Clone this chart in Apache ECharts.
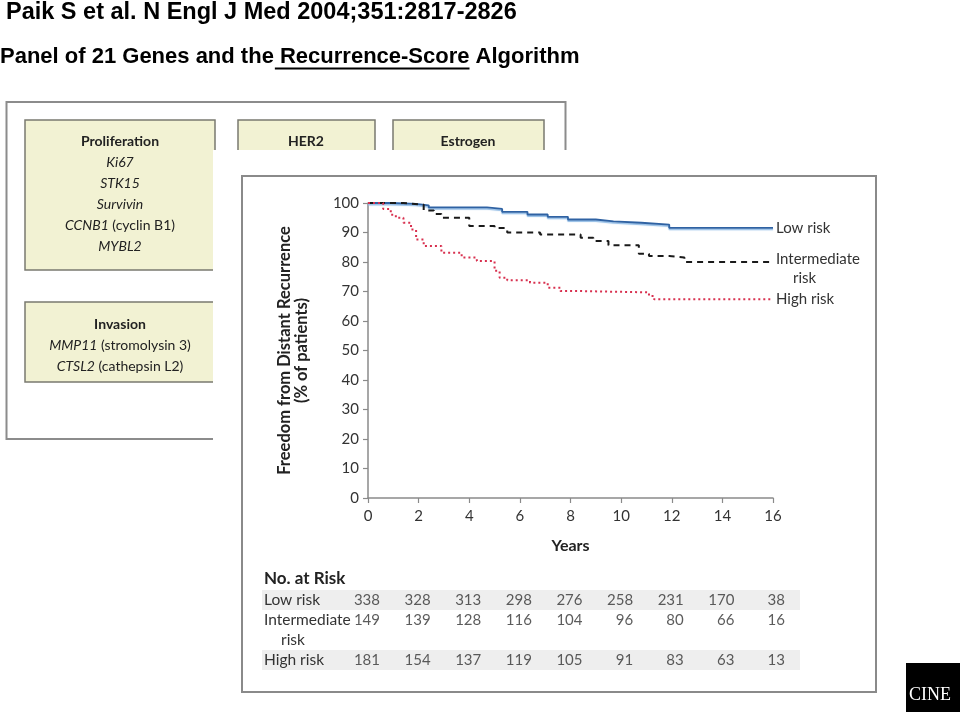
<!DOCTYPE html>
<html>
<head>
<meta charset="utf-8">
<script src="https://cdn.jsdelivr.net/npm/echarts@6/dist/echarts.min.js"></script>
<style>html,body{margin:0;padding:0;background:#fff}#c{width:960px;height:712px}</style>
</head>
<body>
<div id="c"></div>
<script>
// ---- Kaplan-Meier curves (years, % free from distant recurrence) ----
const lowYears = [0, 0.9, 1.9, 2.4, 4.7, 5.3, 6.3, 7.1, 7.9, 9.0, 9.7, 10.8, 11.9, 16];
const lowValues = [100, 99.7, 99.2, 98.5, 98, 97, 96.1, 95.3, 94.4, 93.8, 93.3, 92.7, 91.6, 91.6];
const intYears = [0, 1.4, 2.2, 2.6, 2.9, 4.0, 5.0, 5.5, 6.8, 8.4, 8.9, 9.5, 10.7, 11.1, 11.9, 12.5, 16];
const intValues = [100, 99.4, 97.5, 96.3, 95, 92.2, 91.5, 90, 89.3, 88.2, 87.1, 85.7, 82.8, 82, 81.5, 80, 80];
const highYears = [0, 0.6, 0.9, 1.1, 1.4, 1.7, 1.9, 2.2, 2.9, 3.7, 4.3, 5.0, 5.2, 5.5, 6.4, 7.1, 7.6, 8.1, 11.1, 11.3, 16];
const highValues = [100, 98, 96, 95, 93.3, 91, 87.6, 85.4, 83.1, 81.5, 80.3, 77, 74.7, 73.8, 73, 71.3, 70.2, 69.7, 68.5, 67.4, 67.4];

// ---- No. at risk table ----
const riskYears = [0, 2, 4, 6, 8, 10, 12, 14, 16];
const lowAtRisk = [338, 328, 313, 298, 276, 258, 231, 170, 38];
const intAtRisk = [149, 139, 128, 116, 104, 96, 80, 66, 16];
const highAtRisk = [181, 154, 137, 119, 105, 91, 83, 63, 13];
const riskRowIndex = {low: 0, int: 1, high: 3};

// ---- Text ----
const headerLine1 = 'Paik S et al. N Engl J Med 2004;351:2817-2826';
const headerLine2Parts = ['Panel of 21 Genes and the', ' Recurrence-Score', ' Algorithm'];
const yAxisTitle = 'Freedom from Distant Recurrence\n(% of patients)';
const xAxisTitle = 'Years';
const seriesNames = ['Low risk', 'Intermediate risk', 'High risk'];

const FONT = 'Lato';
const pairs = (xs, ys) => xs.map((x, i) => [x, ys[i]]);
const riskRow = (vals, row) => riskYears.map((y, i) => [y, row, vals[i]]);

// measure header parts for the underline
const H2FONT = 'bold 22px "Liberation Sans"';
const mctx = document.createElement('canvas').getContext('2d');
mctx.font = H2FONT;
const w0 = mctx.measureText(headerLine2Parts[0]).width;
const w1 = mctx.measureText(headerLine2Parts[1]).width;

const chart = echarts.init(document.getElementById('c'), null, {renderer: 'canvas'});

const geneRich = {
  b: {fontFamily: FONT, fontWeight: 'bold', fontSize: 14, fill: '#222'},
  i: {fontFamily: FONT, fontStyle: 'italic', fontSize: 14, fill: '#222'},
  n: {fontFamily: FONT, fontSize: 14, fill: '#222'}
};
const geneText = (x, y, text) => ({
  type: 'text', x: x, y: y, z: 1,
  style: {text: text, rich: geneRich, align: 'center', verticalAlign: 'middle', fill: '#222', font: '14px ' + FONT}
});
const yellow = '#f2f2d3';
const boxStroke = '#7a7a70';
const TFONT = '15.5px ' + FONT;

const graphics = [
  // header
  {type: 'text', x: 6, y: 13, style: {text: headerLine1, font: 'bold 23.5px "Liberation Sans"', fill: '#000', verticalAlign: 'middle'}},
  {type: 'text', x: 0, y: 57, style: {text: headerLine2Parts.join(''), font: H2FONT, fill: '#000', verticalAlign: 'middle'}},
  {type: 'line', shape: {x1: w0 + 1, y1: 68.5, x2: w0 + w1, y2: 68.5}, style: {stroke: '#000', lineWidth: 2}},
  // background panel (gene groups)
  {type: 'rect', z: -3, shape: {x: 6.5, y: 102, width: 559, height: 337}, style: {fill: '#fff', stroke: '#8c8c8c', lineWidth: 2}},
  {type: 'rect', z: -3, shape: {x: 25, y: 120, width: 190, height: 150}, style: {fill: yellow, stroke: boxStroke, lineWidth: 1.5}},
  {type: 'rect', z: -3, shape: {x: 238, y: 120, width: 137, height: 60}, style: {fill: yellow, stroke: boxStroke, lineWidth: 1.5}},
  {type: 'rect', z: -3, shape: {x: 393, y: 120, width: 151, height: 60}, style: {fill: yellow, stroke: boxStroke, lineWidth: 1.5}},
  {type: 'rect', z: -3, shape: {x: 25, y: 302, width: 190, height: 80}, style: {fill: yellow, stroke: boxStroke, lineWidth: 1.5}},
  geneText(120, 141, '{b|Proliferation}'),
  geneText(120, 162, '{i|Ki67}'),
  geneText(120, 183, '{i|STK15}'),
  geneText(120, 204, '{i|Survivin}'),
  geneText(120, 225, '{i|CCNB1}{n| (cyclin B1)}'),
  geneText(120, 246, '{i|MYBL2}'),
  geneText(120, 324, '{b|Invasion}'),
  geneText(120, 345, '{i|MMP11}{n| (stromolysin 3)}'),
  geneText(120, 366, '{i|CTSL2}{n| (cathepsin L2)}'),
  geneText(306, 141, '{b|HER2}'),
  geneText(468, 141, '{b|Estrogen}'),
  // white cover for the overlaid figure
  {type: 'rect', z: -2, shape: {x: 213, y: 150, width: 747, height: 562}, style: {fill: '#fff'}},
  // chart frame
  {type: 'rect', z: -1, shape: {x: 242, y: 176, width: 634, height: 516}, style: {fill: '#fff', stroke: '#8a8a8a', lineWidth: 2}},
  // risk table
  {type: 'text', z: 1, x: 264, y: 579, style: {text: 'No. at Risk', font: 'bold 17px ' + FONT, fill: '#222', verticalAlign: 'middle'}},
  {type: 'rect', z: -1, shape: {x: 262, y: 590, width: 538, height: 20}, style: {fill: '#eeeeee'}},
  {type: 'rect', z: -1, shape: {x: 262, y: 650, width: 538, height: 20}, style: {fill: '#eeeeee'}},
  {type: 'text', z: 1, x: 264, y: 600, style: {text: seriesNames[0], font: TFONT, fill: '#333', verticalAlign: 'middle'}},
  {type: 'text', z: 1, x: 264, y: 620, style: {text: 'Intermediate', font: TFONT, fill: '#333', verticalAlign: 'middle'}},
  {type: 'text', z: 1, x: 281, y: 640, style: {text: 'risk', font: TFONT, fill: '#333', verticalAlign: 'middle'}},
  {type: 'text', z: 1, x: 264, y: 660, style: {text: seriesNames[2], font: TFONT, fill: '#333', verticalAlign: 'middle'}},
  // journal logo fragment
  {type: 'rect', z: 1, shape: {x: 906, y: 663, width: 54, height: 49}, style: {fill: '#000'}},
  {type: 'text', z: 2, x: 909, y: 695, style: {text: 'CINE', font: '18px "Liberation Serif"', fill: '#fff', verticalAlign: 'middle'}}
];

const axisGray = '#8a8a8a';
const option = {
  animation: false,
  backgroundColor: '#fff',
  textStyle: {fontFamily: FONT},
  grid: [
    {left: 368, top: 203, width: 405, height: 295},
    {left: 368, top: 590, width: 405, height: 80}
  ],
  xAxis: [
    {
      gridIndex: 0, type: 'value', min: 0, max: 16, interval: 2,
      name: xAxisTitle, nameLocation: 'middle', nameGap: 40,
      nameTextStyle: {fontFamily: FONT, fontWeight: 'bold', fontSize: 16, color: '#222'},
      axisLine: {lineStyle: {color: axisGray, width: 1.5}},
      axisTick: {length: 5, lineStyle: {color: axisGray, width: 1.2}},
      axisLabel: {fontSize: 15, color: '#333', margin: 11, fontFamily: FONT},
      splitLine: {show: false}
    },
    {gridIndex: 1, type: 'value', min: 0, max: 16, show: false}
  ],
  yAxis: [
    {
      gridIndex: 0, type: 'value', min: 0, max: 100, interval: 10,
      name: yAxisTitle, nameLocation: 'middle', nameGap: 58,
      nameTextStyle: {fontFamily: FONT, fontWeight: 'bold', fontSize: 16.5, color: '#222', lineHeight: 17},
      axisLine: {show: true, lineStyle: {color: axisGray, width: 1.5}},
      axisTick: {show: true, length: 5, lineStyle: {color: axisGray, width: 1.2}},
      axisLabel: {fontSize: 15, color: '#333', margin: 9, fontFamily: FONT},
      splitLine: {show: false}
    },
    {gridIndex: 1, type: 'value', min: -0.5, max: 3.5, inverse: true, show: false}
  ],
  series: [
    {
      name: seriesNames[0], type: 'line', step: 'end', symbol: 'none', xAxisIndex: 0, yAxisIndex: 0,
      data: pairs(lowYears, lowValues),
      lineStyle: {color: '#2f62a3', width: 1.8, shadowColor: '#93bde6', shadowBlur: 1, shadowOffsetY: 1.5},
      endLabel: {show: true, formatter: 'Low risk', fontSize: 15, color: '#333', distance: 3, fontFamily: FONT}
    },
    {
      name: seriesNames[1], type: 'line', step: 'end', symbol: 'none', xAxisIndex: 0, yAxisIndex: 0,
      data: pairs(intYears, intValues),
      lineStyle: {color: '#1a1a1a', width: 2, type: [6, 5]},
      endLabel: {
        show: true, formatter: '{a|Intermediate}\n{b|risk}', distance: 3, offset: [0, 7],
        rich: {
          a: {fontSize: 15, color: '#333', fontFamily: FONT, lineHeight: 19},
          b: {fontSize: 15, color: '#333', fontFamily: FONT, lineHeight: 19, padding: [0, 0, 0, 17]}
        }
      }
    },
    {
      name: seriesNames[2], type: 'line', step: 'end', symbol: 'none', xAxisIndex: 0, yAxisIndex: 0,
      data: pairs(highYears, highValues),
      lineStyle: {color: '#d8304f', width: 2, type: [2, 3]},
      endLabel: {show: true, formatter: 'High risk', fontSize: 15, color: '#333', distance: 3, fontFamily: FONT}
    },
    ...[[lowAtRisk, riskRowIndex.low], [intAtRisk, riskRowIndex.int], [highAtRisk, riskRowIndex.high]].map(([vals, row]) => ({
      type: 'scatter', xAxisIndex: 1, yAxisIndex: 1, symbolSize: 0, silent: true,
      itemStyle: {color: 'rgba(0,0,0,0)'},
      data: riskRow(vals, row),
      label: {
        show: true, position: 'inside', align: 'right', offset: [12, 0],
        formatter: p => String(p.value[2]), fontSize: 15, color: '#333', fontFamily: FONT
      }
    }))
  ],
  graphic: graphics
};
chart.setOption(option);
</script>
</body>
</html>
